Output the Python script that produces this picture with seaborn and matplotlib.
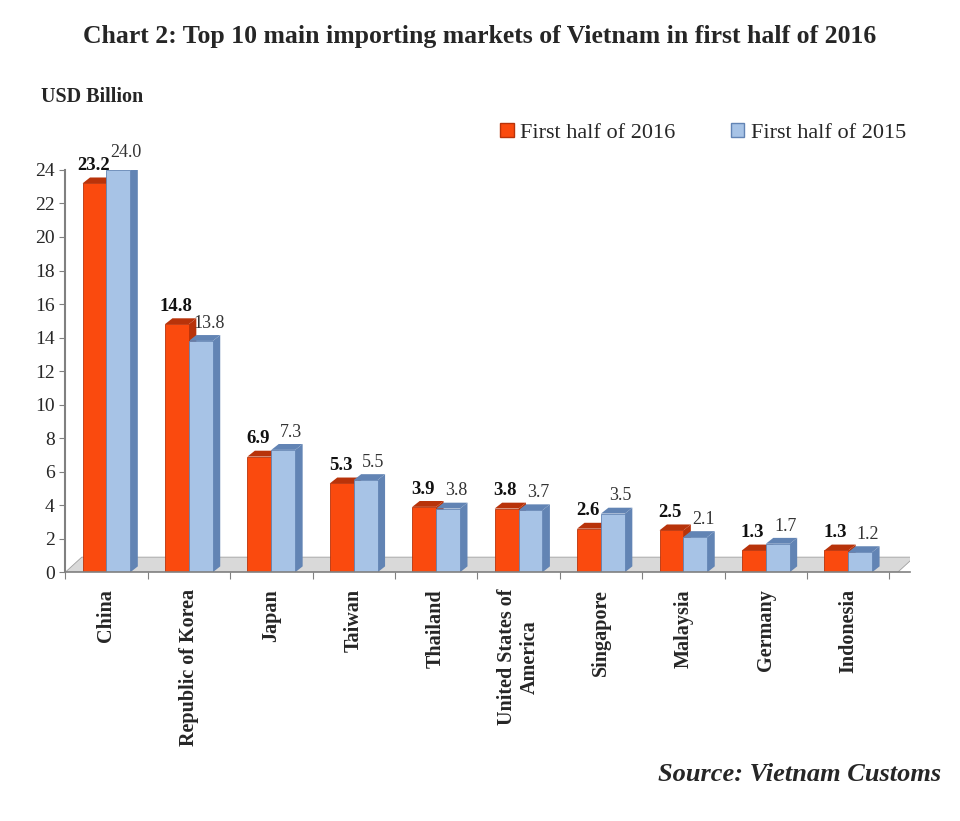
import pandas as pd
import matplotlib.pyplot as plt
import seaborn as sns
from matplotlib.patches import Polygon, Patch

# Dados
markets = ["China", "Republic of Korea", "Japan", "Taiwan", "Thailand",
           "United States of\nAmerica", "Singapore", "Malaysia", "Germany", "Indonesia"]
h1_2016 = [23.2, 14.8, 6.9, 5.3, 3.9, 3.8, 2.6, 2.5, 1.3, 1.3]
h1_2015 = [24.0, 13.8, 7.3, 5.5, 3.8, 3.7, 3.5, 2.1, 1.7, 1.2]
series = ["First half of 2016", "First half of 2015"]
yticks = list(range(0, 25, 2))

df = pd.DataFrame({
    "Market": markets * 2,
    "Value": h1_2016 + h1_2015,
    "Period": [series[0]] * len(markets) + [series[1]] * len(markets),
})

sns.set_style("white")
plt.rcParams["font.family"] = ["Liberation Serif", "DejaVu Serif"]

cores = {series[0]: "#FA4A0E", series[1]: "#A7C3E6"}
lados = {series[0]: "#B8330A", series[1]: "#6284B4"}

fig = plt.figure(figsize=(9.6, 8.21), dpi=100)
ax = fig.add_axes([0.068, 0.303, 0.88, 0.49])

sns.barplot(data=df, x="Market", y="Value", hue="Period", palette=cores,
            width=0.58, saturation=1, ax=ax, legend=False)

# efeito 3D: laterais e topos calculados a partir das barras
dx, dy = 0.09, 0.35
for cont, nome in zip(ax.containers, series):
    for p in cont.patches:
        x0, w, h = p.get_x(), p.get_width(), p.get_height()
        ax.add_patch(Polygon([(x0 + w, 0), (x0 + w + dx, dy), (x0 + w + dx, h + dy), (x0 + w, h)],
                             closed=True, fc=lados[nome], ec="none", zorder=p.get_zorder() - 0.1))
        ax.add_patch(Polygon([(x0, h), (x0 + dx, h + dy), (x0 + w + dx, h + dy), (x0 + w, h)],
                             closed=True, fc=lados[nome], ec="none", zorder=p.get_zorder() - 0.1))
        p.set_edgecolor(lados[nome])
        p.set_linewidth(0.6)

# piso cinza
ax.add_patch(Polygon([(-0.5, 0), (-0.3, 0.9), (9.8, 0.9), (9.6, 0)], closed=True,
                     fc="#D9D9D9", ec="#A0A0A0", lw=0.6, zorder=0.5))

# rótulos
for i, (a, b) in enumerate(zip(h1_2016, h1_2015)):
    ax.text(i - 0.16, a + 0.55, f"{a:.1f}", ha="center", va="bottom",
            fontsize=13.5, fontweight="bold", color="#111111")
    ax.text(i + 0.24, b + 0.55, f"{b:.1f}", ha="center", va="bottom",
            fontsize=13, color="#333333")

ax.set_xlim(-0.5, 9.75)
ax.set_ylim(0, 24)
ax.set_yticks(yticks)
ax.tick_params(axis="y", labelsize=14, length=4, color="#808080", direction="out", left=True)
ax.tick_params(axis="x", length=5, color="#808080", bottom=True)
ax.set_xticks([i - 0.5 for i in range(11)], minor=False)
ax.set_xticklabels([""] * 11)
for i, m in enumerate(markets):
    ax.text(i, -1.0, m, rotation=90, ha="center", va="top", fontsize=14.5,
            fontweight="bold", multialignment="center")
ax.set_xlabel("")
ax.set_ylabel("")
for s in ["top", "right"]:
    ax.spines[s].set_visible(False)
ax.spines["left"].set_color("#808080")
ax.spines["left"].set_linewidth(1.5)
ax.spines["bottom"].set_color("#808080")
ax.spines["bottom"].set_linewidth(1.2)

# legenda
handles = [Patch(fc=cores[s], ec=lados[s]) for s in series]
fig.legend(handles, series, loc="upper right", bbox_to_anchor=(0.965, 0.875), ncol=2,
           frameon=False, fontsize=16, handlelength=0.6, handleheight=0.6,
           handletextpad=0.3, columnspacing=2.5)

fig.text(0.5, 0.955, "Chart 2: Top 10 main importing markets of Vietnam in first half of 2016",
         ha="center", va="center", fontsize=18.5, fontweight="bold")
fig.text(0.043, 0.882, "USD Billion", ha="left", va="center", fontsize=14.5, fontweight="bold")
fig.text(0.98, 0.057, "Source: Vietnam Customs", ha="right", va="center", fontsize=19,
         fontweight="bold", style="italic")

plt.savefig("out.png", dpi=100)
plt.close()
